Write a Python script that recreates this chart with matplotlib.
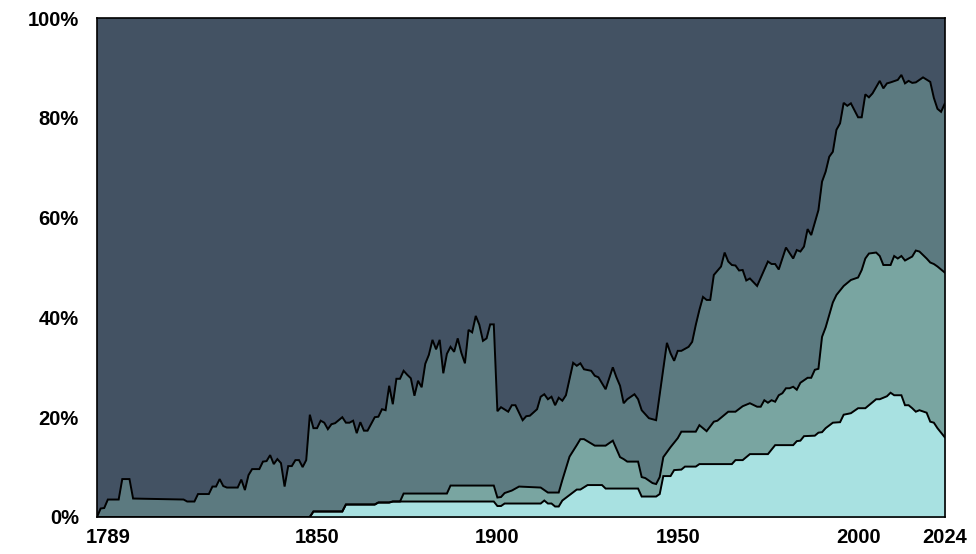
import matplotlib
matplotlib.use("Agg")
import matplotlib.pyplot as plt
import matplotlib.transforms as mtransforms

# cumulative shares (%), one boundary per layer
top_years = [
    1789, 1790, 1791, 1792, 1795, 1796, 1798, 1799, 1813, 1814, 1816, 1817,
    1820, 1821, 1822, 1823, 1824, 1825, 1828, 1829, 1830, 1831, 1832, 1834,
    1835, 1836, 1837, 1838, 1839, 1840, 1841, 1842, 1843, 1844, 1845, 1846,
    1847, 1848, 1849, 1850, 1851, 1852, 1853, 1854, 1855, 1857, 1858, 1859,
    1860, 1861, 1862, 1863, 1864, 1866, 1867, 1868, 1869, 1870, 1871, 1872,
    1873, 1874, 1875, 1876, 1877, 1878, 1879, 1880, 1881, 1882, 1883, 1884,
    1885, 1886, 1887, 1888, 1889, 1890, 1891, 1892, 1893, 1894, 1895, 1896,
    1897, 1898, 1899, 1900, 1901, 1903, 1904, 1905, 1907, 1908, 1909, 1911,
    1912, 1913, 1914, 1915, 1916, 1917, 1918, 1919, 1921, 1922, 1923, 1924,
    1926, 1927, 1928, 1930, 1932, 1933, 1934, 1935, 1936, 1938, 1939, 1940,
    1942, 1944, 1947, 1948, 1949, 1950, 1951, 1953, 1954, 1955, 1956, 1957,
    1958, 1959, 1960, 1962, 1963, 1964, 1965, 1966, 1967, 1968, 1969, 1970,
    1972, 1975, 1976, 1977, 1978, 1980, 1982, 1983, 1984, 1985, 1986, 1987,
    1989, 1990, 1991, 1992, 1993, 1994, 1995, 1996, 1997, 1998, 2000, 2001,
    2002, 2003, 2004, 2006, 2007, 2008, 2009, 2011, 2012, 2013, 2014, 2015,
    2016, 2018, 2020, 2021, 2022, 2023, 2024,
]
top_share = [
    0.0, 1.7, 1.8, 3.5, 3.5, 7.6, 7.6, 3.7, 3.5, 3.1, 3.1, 4.6,
    4.6, 6.1, 6.1, 7.6, 6.2, 5.9, 5.9, 7.5, 5.4, 8.4, 9.6, 9.6,
    11.1, 11.2, 12.4, 10.6, 11.6, 10.8, 6.1, 10.2, 10.2, 11.4, 11.4, 10.0,
    11.4, 20.5, 17.8, 17.8, 19.3, 18.9, 17.6, 18.6, 18.8, 20.0, 18.9, 18.9,
    19.3, 16.8, 19.0, 17.3, 17.3, 20.0, 20.1, 21.6, 21.4, 26.3, 22.6, 27.7,
    27.7, 29.3, 28.5, 27.8, 24.3, 27.3, 26.0, 30.7, 32.5, 35.5, 33.6, 35.5,
    28.8, 32.7, 34.1, 33.1, 35.8, 32.9, 30.8, 37.5, 37.0, 40.3, 38.5, 35.3,
    35.8, 38.6, 38.6, 21.2, 22.0, 21.1, 22.4, 22.4, 19.4, 20.2, 20.3, 21.6,
    24.1, 24.6, 23.6, 24.1, 22.4, 23.9, 23.3, 24.4, 30.9, 30.3, 30.8, 29.6,
    29.3, 28.3, 28.0, 25.6, 30.0, 28.0, 26.3, 22.8, 23.6, 24.6, 23.6, 21.4,
    19.8, 19.4, 34.9, 32.8, 31.3, 33.3, 33.3, 34.1, 35.1, 38.5, 41.5, 44.1,
    43.5, 43.5, 48.5, 50.2, 53.0, 51.2, 50.5, 50.4, 49.4, 49.5, 47.4, 47.8,
    46.3, 51.2, 50.7, 50.7, 49.6, 54.0, 51.8, 53.5, 53.2, 54.2, 57.7, 56.5,
    61.5, 67.2, 69.2, 72.2, 73.2, 77.6, 78.9, 83.0, 82.4, 82.9, 80.1, 80.1,
    84.7, 84.1, 84.9, 87.4, 85.9, 86.9, 87.1, 87.6, 88.6, 86.9, 87.4, 87.0,
    87.1, 88.1, 87.2, 84.0, 81.8, 81.2, 82.8,
]

mid_years = [
    1789, 1848, 1849, 1857, 1858, 1866, 1867, 1870, 1871, 1873, 1874, 1886,
    1887, 1899, 1900, 1901, 1902, 1904, 1906, 1912, 1914, 1917, 1918, 1920,
    1922, 1923, 1924, 1927, 1930, 1932, 1934, 1935, 1936, 1939, 1940, 1941,
    1943, 1944, 1945, 1946, 1948, 1950, 1951, 1955, 1956, 1958, 1960, 1961,
    1964, 1966, 1968, 1970, 1972, 1973, 1974, 1975, 1976, 1977, 1978, 1979,
    1980, 1981, 1982, 1983, 1984, 1986, 1987, 1988, 1989, 1990, 1991, 1993,
    1994, 1996, 1998, 2000, 2001, 2002, 2003, 2005, 2006, 2007, 2009, 2010,
    2011, 2012, 2013, 2015, 2016, 2017, 2019, 2020, 2021, 2022, 2024,
]
mid_share = [
    0.0, 0.0, 1.1, 1.1, 2.5, 2.5, 2.9, 2.9, 3.1, 3.1, 4.7, 4.7,
    6.3, 6.3, 3.9, 4.0, 4.8, 5.3, 6.1, 5.9, 4.9, 4.9, 7.4, 12.1,
    14.4, 15.6, 15.6, 14.3, 14.3, 15.3, 12.0, 11.6, 11.1, 11.1, 8.0, 7.8,
    6.8, 6.6, 8.0, 12.0, 14.0, 15.8, 17.1, 17.1, 18.4, 17.2, 19.1, 19.3,
    21.1, 21.1, 22.2, 22.8, 22.1, 22.1, 23.4, 22.9, 23.4, 23.1, 24.4, 24.8,
    25.8, 25.8, 26.1, 25.5, 26.9, 27.9, 27.9, 29.5, 29.7, 36.1, 38.0, 43.0,
    44.5, 46.3, 47.5, 48.0, 49.5, 51.8, 52.8, 53.0, 52.3, 50.5, 50.5, 52.3,
    51.8, 52.3, 51.4, 52.2, 53.4, 53.2, 51.8, 51.0, 50.7, 50.2, 49.0,
]

low_years = [
    1789, 1848, 1849, 1857, 1858, 1866, 1867, 1870, 1871, 1899, 1900, 1901,
    1902, 1912, 1913, 1914, 1915, 1916, 1917, 1918, 1920, 1922, 1923, 1925,
    1929, 1930, 1939, 1940, 1944, 1945, 1946, 1948, 1949, 1951, 1952, 1955,
    1956, 1965, 1966, 1968, 1970, 1975, 1977, 1982, 1983, 1984, 1985, 1988,
    1989, 1990, 1991, 1993, 1995, 1996, 1998, 1999, 2000, 2002, 2003, 2005,
    2006, 2008, 2009, 2010, 2012, 2013, 2014, 2015, 2016, 2017, 2019, 2020,
    2021, 2022, 2024,
]
low_share = [
    0.0, 0.0, 1.1, 1.1, 2.5, 2.5, 2.9, 2.9, 3.1, 3.1, 2.2, 2.2,
    2.7, 2.7, 3.3, 2.7, 2.7, 2.1, 2.1, 3.3, 4.4, 5.5, 5.5, 6.4,
    6.4, 5.7, 5.7, 4.1, 4.1, 4.6, 8.2, 8.2, 9.4, 9.5, 10.1, 10.1,
    10.6, 10.6, 11.4, 11.4, 12.6, 12.6, 14.4, 14.4, 15.2, 15.3, 16.2, 16.3,
    16.9, 17.0, 17.8, 18.9, 19.0, 20.5, 20.8, 21.3, 21.8, 21.8, 22.4, 23.6,
    23.6, 24.2, 24.9, 24.4, 24.4, 22.4, 22.4, 21.8, 21.1, 21.4, 20.9, 19.1,
    18.9, 17.8, 16.0,
]

x_ticks = [1789, 1850, 1900, 1950, 2000, 2024]
y_ticks = [0, 20, 40, 60, 80, 100]

DARK = "#435263"
LAYER_COLORS = ["#5c7a80", "#79a5a1", "#a8e1e1"]


def main() -> None:
    fig = plt.figure(figsize=(9.76, 5.54), dpi=100)
    ax = fig.add_axes([0.0994, 0.0668, 0.8685, 0.9007])
    ax.set_facecolor(DARK)

    layers = [(top_years, top_share), (mid_years, mid_share), (low_years, low_share)]
    for (years, share), color in zip(layers, LAYER_COLORS):
        ax.fill_between(years, share, 0, color=color, linewidth=0)
        ax.plot(years, share, color="black", linewidth=1.4, solid_joinstyle="miter")

    ax.set_xlim(1789, 2024)
    ax.set_ylim(0, 100)
    ax.set_xticks(x_ticks)
    ax.set_yticks(y_ticks)
    ax.set_yticklabels([f"{v}%" for v in y_ticks])
    ax.tick_params(length=0)
    ax.tick_params(axis="y", pad=13)
    ax.tick_params(axis="x", pad=8)
    for label in ax.get_xticklabels() + ax.get_yticklabels():
        label.set_fontfamily("Liberation Sans")
        label.set_fontweight("bold")
        label.set_fontsize(14.5)

    # the first year label sits a little right of its tick in the original
    first = ax.get_xticklabels()[0]
    first.set_transform(first.get_transform()
                        + mtransforms.ScaledTranslation(0.11, 0, fig.dpi_scale_trans))

    for spine in ax.spines.values():
        spine.set_color("black")
        spine.set_linewidth(1.2)

    fig.savefig("out.png", dpi=100)
    plt.close(fig)


if __name__ == "__main__":
    main()
